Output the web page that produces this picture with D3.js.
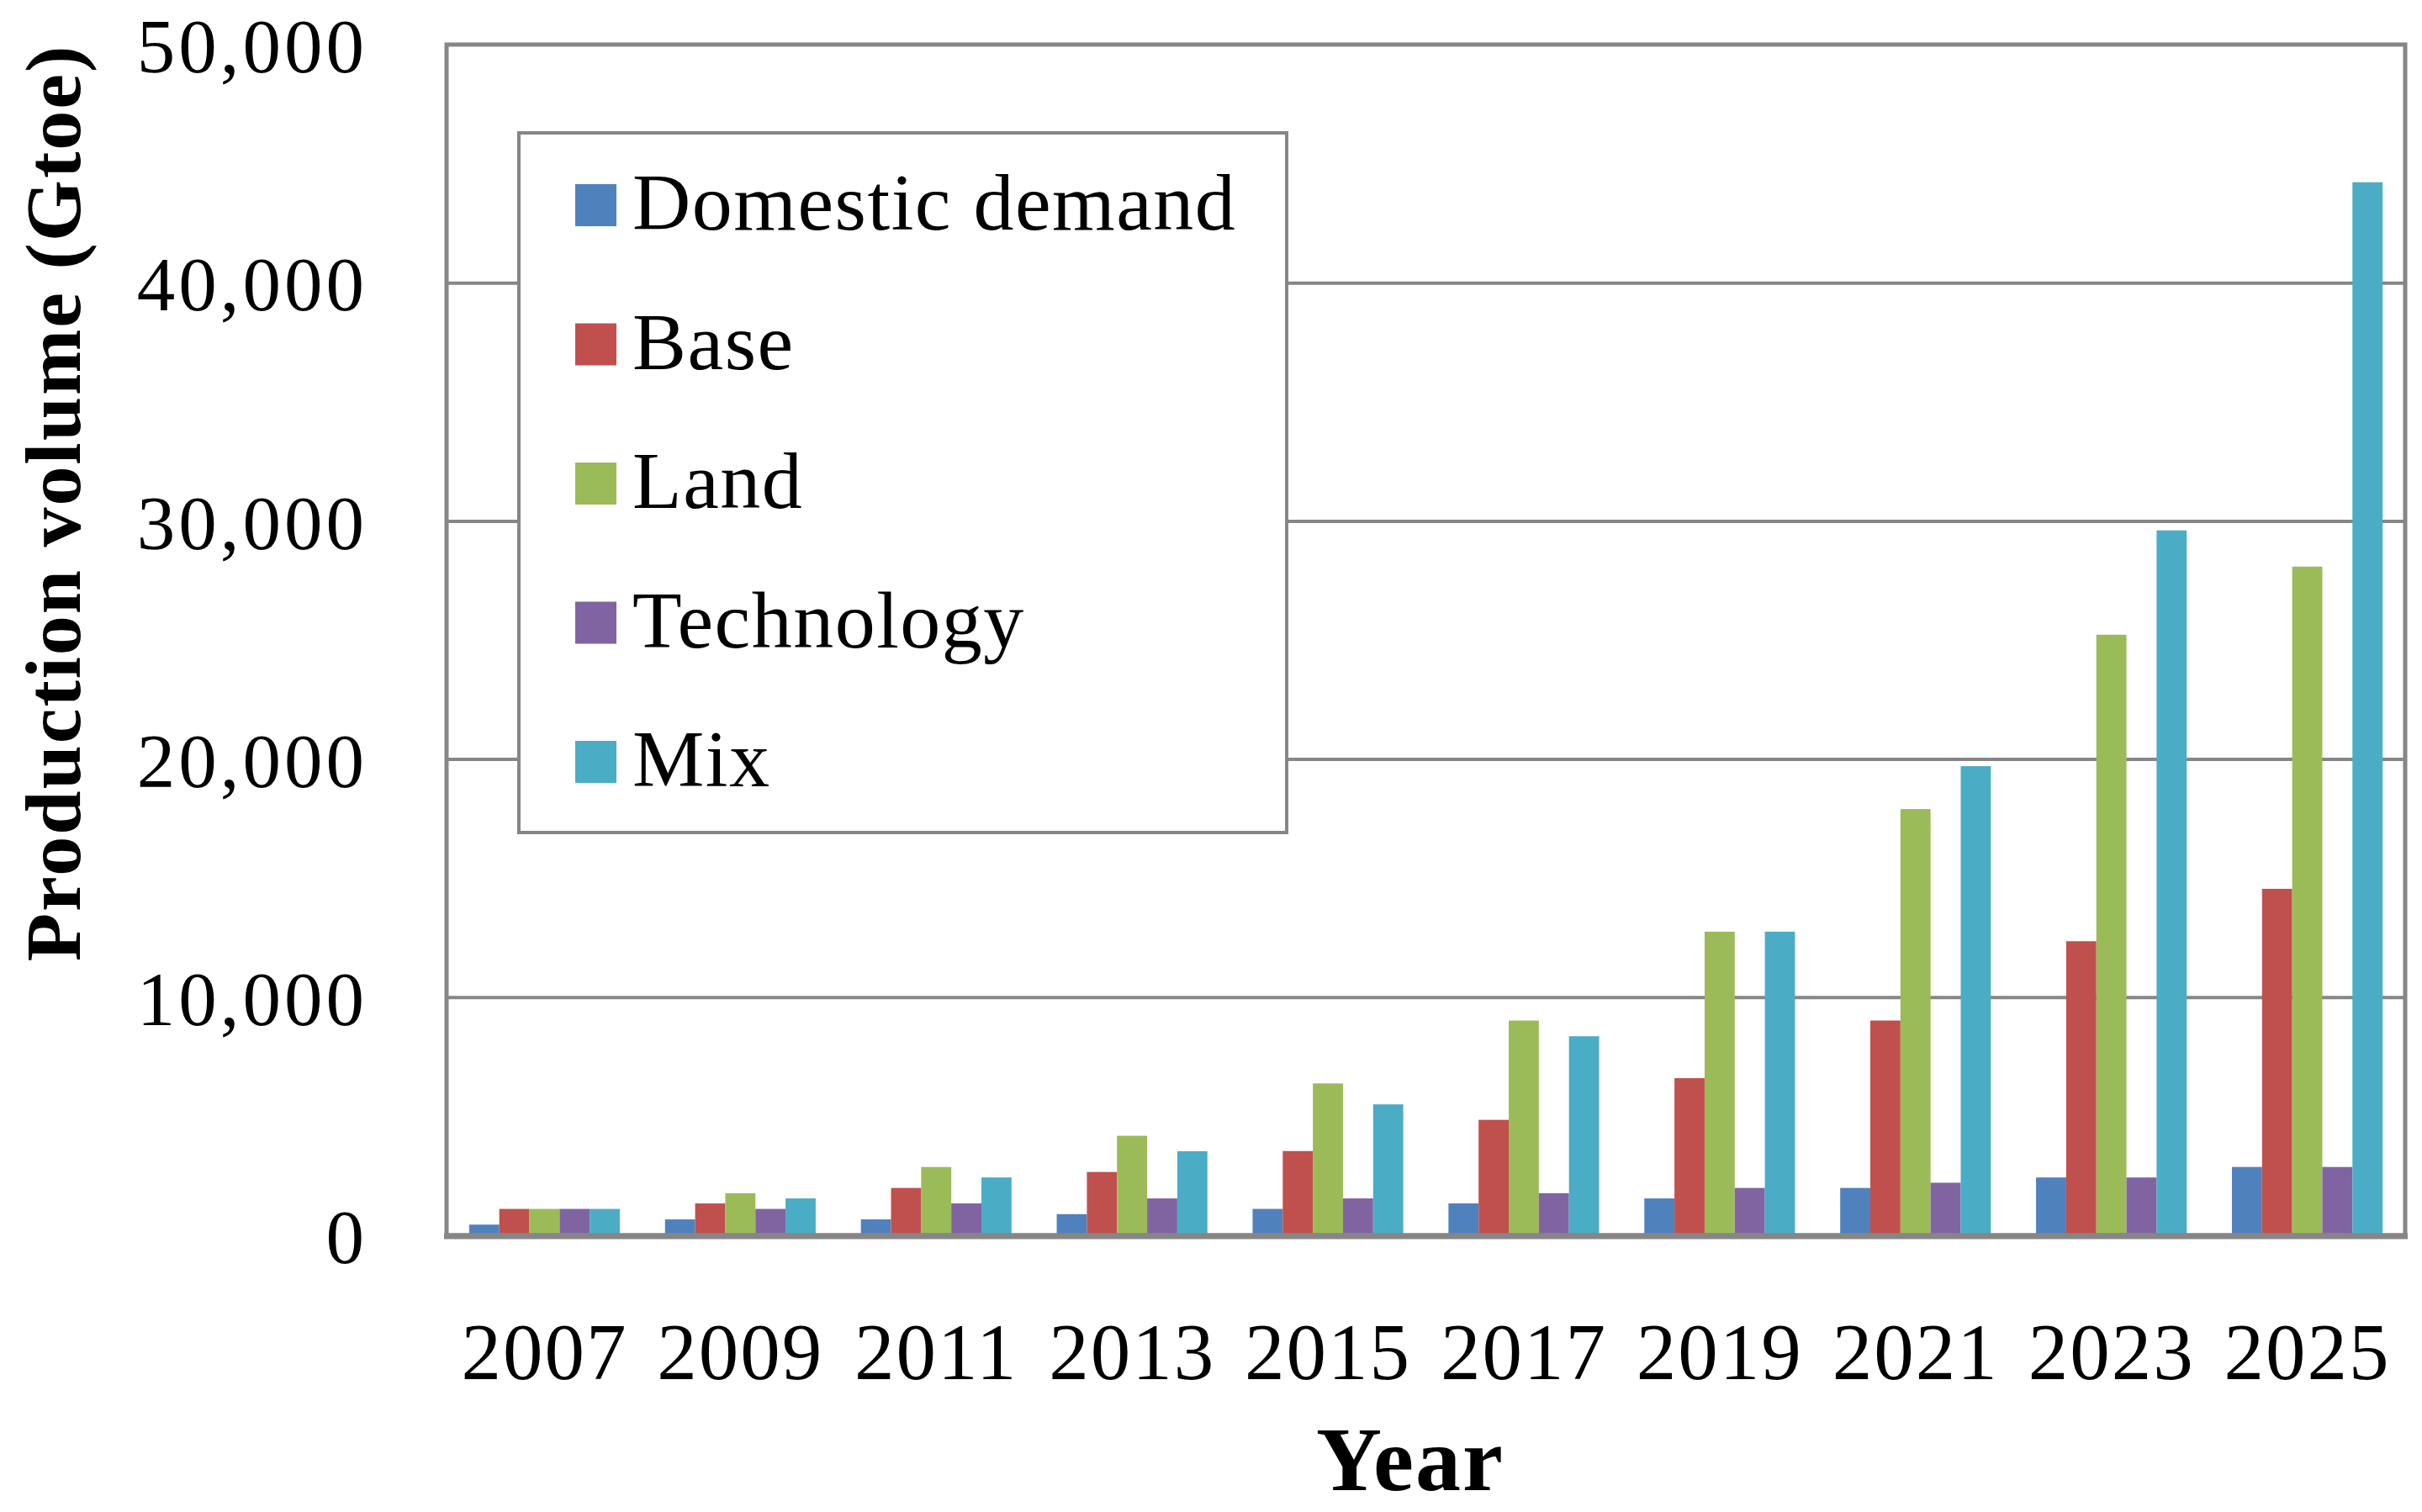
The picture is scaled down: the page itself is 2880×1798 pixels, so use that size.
<!DOCTYPE html>
<html>
<head>
<meta charset="utf-8">
<script src="https://cdn.jsdelivr.net/npm/d3@7/dist/d3.min.js"></script>
<style>
  html, body { margin: 0; padding: 0; background: #ffffff; }
  svg { display: block; }
</style>
</head>
<body>
<script>
const years = ["2007", "2009", "2011", "2013", "2015", "2017", "2019", "2021", "2023", "2025"];
const seriesNames = ["Domestic demand", "Base", "Land", "Technology", "Mix"];
const domesticDemand = [450, 670, 670, 890, 1110, 1340, 1550, 1990, 2430, 2870];
const base = [1110, 1340, 1990, 2660, 3540, 4850, 6600, 9020, 12350, 14550];
const land = [1110, 1770, 2870, 4180, 6380, 9020, 12750, 17900, 25220, 28080];
const technology = [1110, 1110, 1340, 1550, 1550, 1770, 1990, 2210, 2430, 2870];
const mix = [1110, 1550, 2430, 3530, 5500, 8360, 12750, 19700, 29600, 44220];
const yTicks = [0, 10000, 20000, 30000, 40000, 50000];
const colors = ["#4F81BD", "#C0504D", "#9BBB59", "#8064A2", "#4BACC6"];
const yTitle = "Production volume (Gtoe)";
const xTitle = "Year";

const seriesValues = [domesticDemand, base, land, technology, mix];

const W = 2880, H = 1798;
const plot = { left: 531, top: 53, right: 2860, bottom: 1469 };
const font = "'Liberation Serif', 'Times New Roman', serif";
const gridColor = "#868686";

const svg = d3.select("body").append("svg")
  .attr("width", W).attr("height", H)
  .attr("viewBox", `0 0 ${W} ${H}`);

svg.append("rect").attr("width", W).attr("height", H).attr("fill", "#fff");

const y = d3.scaleLinear().domain([0, 50000]).range([plot.bottom, plot.top]);
const x0 = d3.scaleBand().domain(years).range([plot.left, plot.right]).paddingInner(0).paddingOuter(0);
const bw = x0.bandwidth();
const barW = bw / 6.5;
const x1 = d3.scaleBand().domain(seriesNames).range([0.75 * barW, bw - 0.75 * barW]).padding(0);

// gridlines
const grid = svg.append("g")
  .attr("transform", `translate(${plot.left},0)`)
  .call(d3.axisLeft(y).tickValues(yTicks.slice(1, -1)).tickSize(-(plot.right - plot.left)).tickFormat(""));
grid.select(".domain").remove();
grid.selectAll(".tick line").attr("stroke", gridColor).attr("stroke-width", 4);

// bars
const groups = svg.append("g").selectAll("g")
  .data(years)
  .join("g")
  .attr("transform", d => `translate(${x0(d)},0)`);

groups.selectAll("rect")
  .data((d, i) => seriesNames.map((s, k) => ({ s, v: seriesValues[k][i], c: colors[k] })))
  .join("rect")
  .attr("x", d => x1(d.s))
  .attr("width", x1.bandwidth())
  .attr("y", d => y(d.v))
  .attr("height", d => y(0) - y(d.v))
  .attr("fill", d => d.c);

// plot frame
svg.append("rect")
  .attr("x", plot.left).attr("y", plot.top)
  .attr("width", plot.right - plot.left).attr("height", plot.bottom - plot.top)
  .attr("fill", "none").attr("stroke", gridColor).attr("stroke-width", 5);
svg.append("line")
  .attr("x1", plot.left - 3).attr("x2", plot.right + 3)
  .attr("y1", plot.bottom + 1).attr("y2", plot.bottom + 1)
  .attr("stroke", gridColor).attr("stroke-width", 7);

// y axis labels
const yAxis = svg.append("g")
  .attr("transform", `translate(${plot.left},0)`)
  .call(d3.axisLeft(y).tickValues(yTicks).tickSize(0).tickPadding(94).tickFormat(d3.format(",")));
yAxis.select(".domain").remove();
yAxis.selectAll("text")
  .attr("font-family", font).attr("font-size", 91).attr("fill", "#000")
  .attr("letter-spacing", 4).attr("dy", "0.36em");

// x axis labels
const xAxis = svg.append("g")
  .attr("transform", `translate(0,${plot.bottom})`)
  .call(d3.axisBottom(x0).tickSize(0).tickPadding(0));
xAxis.select(".domain").remove();
xAxis.selectAll("text")
  .attr("font-family", font).attr("font-size", 95).attr("fill", "#000")
  .attr("dy", 0).attr("y", 171).attr("letter-spacing", 2);

// axis titles
svg.append("text")
  .attr("x", 1677).attr("y", 1772)
  .attr("text-anchor", "middle")
  .attr("font-family", font).attr("font-weight", "bold").attr("font-size", 108)
  .attr("letter-spacing", 2)
  .text(xTitle);

svg.append("text")
  .attr("transform", `translate(95,598) rotate(-90)`)
  .attr("text-anchor", "middle")
  .attr("font-family", font).attr("font-weight", "bold").attr("font-size", 94)
  .attr("letter-spacing", 2)
  .text(yTitle);

// legend
const legend = svg.append("g");
legend.append("rect")
  .attr("x", 617).attr("y", 158).attr("width", 913).attr("height", 832)
  .attr("fill", "#fff").attr("stroke", gridColor).attr("stroke-width", 4);
const rowY = d3.scalePoint().domain(seriesNames).range([244, 906]);
const items = legend.selectAll("g.item").data(seriesNames).join("g").attr("class", "item");
items.append("rect")
  .attr("x", 684).attr("y", d => rowY(d) - 25)
  .attr("width", 49).attr("height", 50)
  .attr("fill", (d, i) => colors[i]);
items.append("text")
  .attr("x", 752).attr("y", d => rowY(d) + 29)
  .attr("font-family", font).attr("font-size", 96).attr("letter-spacing", 1.5)
  .attr("fill", "#000")
  .text(d => d);
</script>
</body>
</html>
